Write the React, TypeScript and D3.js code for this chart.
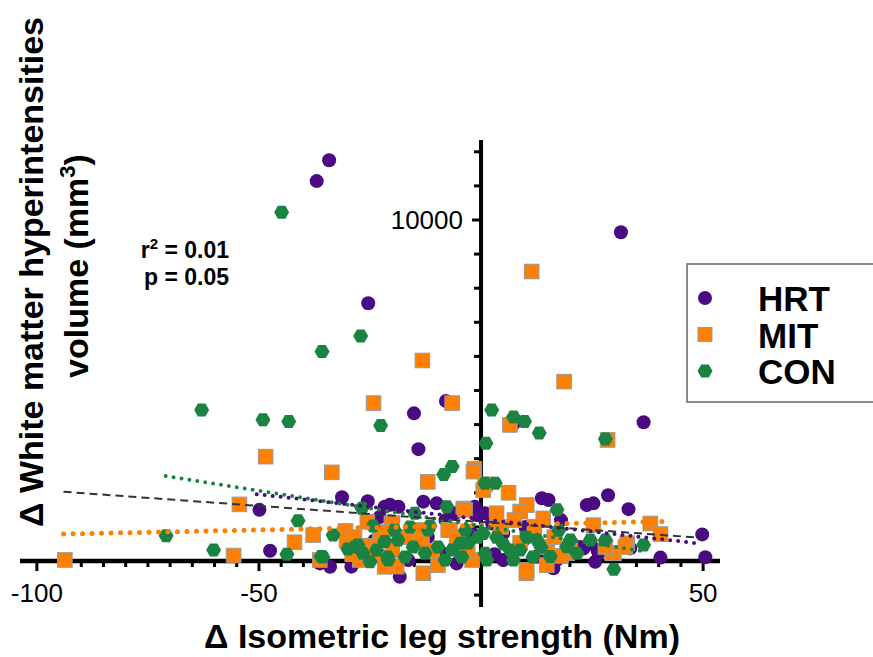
import React from "react";
import * as d3 from "d3";

// ---- Data ----
const hrtX = [-34.2, -37.0, -25.4, -15.1, -7.9, -14.1, 31.5, 36.6, 7.3, -49.9, -47.5, -31.3, -36.3, -18.3, -29.2, -13.0, 13.7, 15.2, 23.8, 25.3, 28.6, 33.2, 49.8, 50.5, 40.4, 25.7, 16.3, -5.5, 23.1, 33.6, -1.0, 5.0, 24.6, 17.0, 12.6, 5.0, -18.6, -10.0, -5.9, -1.4, 0.9, -16.4, 26.5, -36.3, -22.8, -21.7, 22.3, 26.2, -34.0, 2.5, 9.5, -9.0, -24.0, -12.0, -2.0, 3.0, 18.0, 10.0, -8.0, -25.5, -20.5];
const hrtY = [11750, 11140, 7560, 4330, 4690, 3280, 9640, 4070, 4020, 1500, 300, 1870, -70, -460, -165, 1740, 1840, 1790, 1640, 1690, 1930, 1520, 780, 110, 100, -20, -215, -70, 370, 370, 1350, 810, 520, 30, 130, 30, 1590, 1690, 1400, 1590, 1400, 30, 225, 30, 1290, 1590, 410, 320, -170, 1100, 600, 250, 600, 700, 800, 200, 1200, 1000, 1200, 1750, 1650];

const mitX = [-13.2, -24.2, -6.5, -48.5, -33.6, -12.0, 11.4, 18.7, 6.5, 28.5, -1.5, -93.7, -54.4, -55.7, -42.0, -37.8, -25.6, -20.2, -30.5, -30.3, -13.0, -19.0, -27.3, -36.3, -1.7, 0.5, 6.2, -4.0, 3.5, 10.3, 8.8, 14.0, 38.1, 40.4, 25.3, 32.9, 29.9, 10.2, 14.8, 20.1, -7.0, -20.0, -14.2, -7.4, -20.0, -13.3, -9.7, -3.6, -2.0, -21.7, 8.8, 14.9, 19.4, 10.3, 32.5, 29.5, 28.0, -22.8, -27.3, 0.9, -28.5, -26.0, -24.0, -22.0, -29.0, -5.5, -3.0, 4.5, 7.5, 12.0, 16.5, 18.0, -16.5, -11.0];
const mitY = [5880, 4630, 4630, 3060, 2600, 2320, 8490, 5260, 3990, 3550, 2700, 30, 1660, 160, 550, 760, 1150, 1100, 880, 600, -360, -165, 30, 30, 2620, 2080, 2000, 1540, 1400, 1640, 1450, 1250, 1100, 790, 1050, 520, 225, -360, -120, 320, 910, 1110, 910, 910, 320, 530, -120, 1500, 30, -170, 530, 410, 230, -260, 410, 230, 410, 700, 230, 2250, 700, 450, 250, 850, 200, 700, 300, 1000, 1200, 1000, 700, 150, 700, 300];

const conX = [-44.9, -27.1, -35.8, -62.9, -49.1, -43.3, -22.6, 2.4, 1.1, -6.5, -8.4, 7.3, 9.8, 13.1, 28.0, -70.9, -60.2, -43.7, -41.2, -36.0, -33.3, -27.7, -20.9, -25.0, -21.7, -24.3, -11.5, 0.9, 3.2, 17.1, 28.0, 36.6, 29.9, -7.7, 8.8, 15.6, 1.3, 7.3, 19.3, 12.6, -4.7, 0.5, -18.7, -15.3, -11.9, -9.7, -12.6, -6.5, -2.9, -0.7, 0.9, -17.1, -21.0, -4.3, -8.1, -14.9, 3.5, 6.5, 10.3, 11.7, 20.1, 24.6, 21.6, -35.6, -28.4, -26.6, -23.5, -26.8, -30.0, -19.5, -16.0, -3.5, 5.0, 13.5, 17.5];
const conY = [10230, 6600, 6140, 4430, 4140, 4090, 3970, 4430, 3450, 2770, 2540, 4220, 4090, 3750, 3580, 740, 320, 200, 1180, 130, 760, 470, 30, -20, 570, 1030, 1030, 2280, 2280, 1500, 615, 470, -245, 1590, 320, 130, 30, 30, 420, 615, 520, 810, 615, 410, 910, 410, 230, 320, 530, 700, 230, 120, 120, 120, 30, 1400, 700, 320, 700, 120, 615, 615, 230, 120, 410, 230, 320, 1550, 350, 900, 1000, 900, 500, 400, 900];

// regression lines: [x0, y0, x1, y1]
const fitAll = [-94, 2030, 50, 675];
const fitHRT = [-50.5, 1960, 49.4, 510];
const fitMIT = [-94, 790, 40.8, 1160];
const fitCON = [-71, 2490, 36.6, 280];

const groupNames = ["HRT", "MIT", "CON"];
const xTickLabels = [-100, -50, 50];
const yTickLabels = [10000];

const COL_HRT = "#4a0a84";
const COL_MIT = "#ff8000";
const COL_CON = "#1b8342";
const FONT = "'Liberation Sans', Arial, Helvetica, sans-serif";

function hexPath(w: number, h: number) {
  const pts: [number, number][] = [
    [-w / 2, 0], [-w / 4, -h / 2], [w / 4, -h / 2], [w / 2, 0], [w / 4, h / 2], [-w / 4, h / 2],
  ];
  return "M" + pts.map((p) => p.join(",")).join("L") + "Z";
}

export default function App() {
  const W = 873, H = 657;
  const x = d3.scaleLinear().domain([-103.8, 53.8]).range([20, 720]);
  const y = d3.scaleLinear().domain([-1349, 12346]).range([607, 140]);
  const x0 = x(0), y0 = y(0);

  const minorX = d3.range(-100, 51, 5);
  const yTicks = d3.range(-1000, 12001, 1000);
  const hex = hexPath(15, 13);
  const line = (f: number[]) => `M${x(f[0])},${y(f[1])}L${x(f[2])},${y(f[3])}`;

  return (
    <svg width={W} height={H} style={{ position: "absolute", left: 0, top: 0, background: "#fff" }} fontFamily={FONT}>
      {/* axes */}
      <line x1={x.range()[0]} x2={x.range()[1]} y1={y0} y2={y0} stroke="#000" strokeWidth={4.5} />
      <line x1={x0} x2={x0} y1={y.range()[1]} y2={y.range()[0]} stroke="#000" strokeWidth={4} />
      {minorX.filter((v) => v !== 0).map((v) => {
        const major = v % 50 === 0;
        return <line key={"xt" + v} x1={x(v)} x2={x(v)} y1={y0} y2={y0 + (major ? 10 : 6)} stroke="#000" strokeWidth={3} />;
      })}
      {yTicks.filter((v) => v !== 0).map((v) => (
        <line key={"yt" + v} x1={x0} x2={x0 - (v === 10000 ? 9 : 7)} y1={y(v)} y2={y(v)} stroke="#000" strokeWidth={3} />
      ))}
      {xTickLabels.map((v) => (
        <text key={"xl" + v} x={x(v)} y={602} textAnchor="middle" fontSize={26} fill="#000">{String(v)}</text>
      ))}
      {yTickLabels.map((v) => (
        <text key={"yl" + v} x={463} y={y(v) + 9.5} textAnchor="end" fontSize={26} fill="#000">{String(v)}</text>
      ))}

      {/* axis titles */}
      <text x={442} y={648} textAnchor="middle" fontSize={34} fontWeight="bold" fill="#000">Δ Isometric leg strength (Nm)</text>
      <text transform="translate(43,272) rotate(-90)" textAnchor="middle" fontSize={34} fontWeight="bold" fill="#000">Δ White matter hyperintensities</text>
      <text transform="translate(88,266) rotate(-90)" textAnchor="middle" fontSize={34} fontWeight="bold" fill="#000">
        volume (mm<tspan fontSize={22} dy={-13}>3</tspan><tspan dy={13}>)</tspan>
      </text>

      {/* stats */}
      <text x={229} y={258} textAnchor="end" fontSize={23} fontWeight="bold" fill="#000">
        r<tspan fontSize={15} dy={-9}>2</tspan><tspan dy={9}> = 0.01</tspan>
      </text>
      <text x={229} y={285} textAnchor="end" fontSize={23} fontWeight="bold" fill="#000">p = 0.05</text>

      {/* points */}
      {hrtX.map((v, i) => (
        <circle key={"h" + i} cx={x(v)} cy={y(hrtY[i])} r={7} fill={COL_HRT} />
      ))}
      {mitX.map((v, i) => (
        <rect key={"m" + i} x={x(v) - 7.3} y={y(mitY[i]) - 7.3} width={14.6} height={14.6} fill={COL_MIT} stroke="#9a9a9a" strokeWidth={1} />
      ))}
      {conX.map((v, i) => (
        <path key={"c" + i} d={hex} transform={`translate(${x(v)},${y(conY[i])})`} fill={COL_CON} />
      ))}

      {/* fit lines */}
      <path d={line(fitMIT)} stroke={COL_MIT} strokeWidth={5} strokeLinecap="round" strokeDasharray="0 9.5" fill="none" />
      <path d={line(fitCON)} stroke={COL_CON} strokeWidth={4} strokeLinecap="round" strokeDasharray="0 8" fill="none" />
      <path d={line(fitHRT)} stroke={COL_HRT} strokeWidth={4} strokeLinecap="round" strokeDasharray="0 8" fill="none" />
      <path d={line(fitAll)} stroke="#333" strokeWidth={2} strokeDasharray="8 5" fill="none" />

      {/* legend */}
      <rect x={687} y={264} width={200} height={138} fill="#fff" stroke="#666" strokeWidth={1.5} />
      {groupNames.map((g, i) => {
        const cy = 298 + i * 36.5;
        return (
          <g key={g}>
            {i === 0 && <circle cx={705} cy={cy} r={7} fill={COL_HRT} />}
            {i === 1 && <rect x={698} y={cy - 7} width={14} height={14} fill={COL_MIT} stroke="#9a9a9a" strokeWidth={1} />}
            {i === 2 && <path d={hex} transform={`translate(705,${cy})`} fill={COL_CON} />}
            <text x={758} y={cy + 13} fontSize={35} fontWeight="bold" fill="#000">{g}</text>
          </g>
        );
      })}
    </svg>
  );
}
